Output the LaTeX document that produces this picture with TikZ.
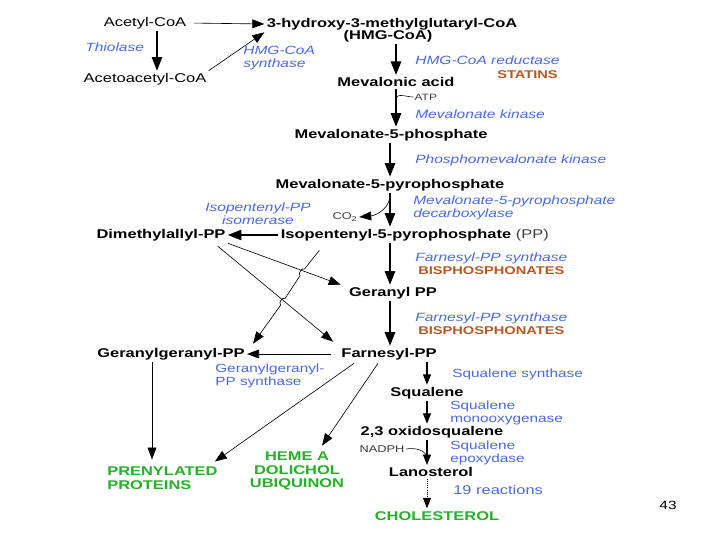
\documentclass[tikz,border=0pt]{standalone}
\usepackage{fontspec}
\setmainfont[FakeStretch=1.3]{Liberation Sans}
\usetikzlibrary{arrows.meta,calc}
\definecolor{enzblue}{RGB}{75,105,220}
\definecolor{drugbrown}{RGB}{180,88,36}
\definecolor{endgreen}{RGB}{36,176,40}
\definecolor{cofgray}{RGB}{60,60,60}

\begin{document}
\begin{tikzpicture}[x=0.025cm,y=-0.025cm,
  met/.style={font=\fontsize{9}{10}\selectfont\bfseries, inner sep=1.5pt},
  sub/.style={font=\fontsize{9}{10}\selectfont, inner sep=1.5pt},
  enz/.style={font=\fontsize{8.5}{9.3}\selectfont\itshape, text=enzblue, inner sep=0pt, align=left},
  enzup/.style={font=\fontsize{8.4}{9.3}\selectfont, text=enzblue, inner sep=0pt, align=left},
  drug/.style={font=\fontsize{8}{9}\selectfont\bfseries, text=drugbrown, inner sep=0pt},
  prod/.style={font=\fontsize{9}{9.6}\selectfont\bfseries, text=endgreen, inner sep=0pt},
  cof/.style={font=\fontsize{6.5}{8}\selectfont, text=cofgray, inner sep=1pt},
  stem/.style={line width=1.1pt, -{Triangle[length=3.4mm,width=2.6mm]}},
  branch/.style={line width=0.9pt, -{Triangle[length=2.6mm,width=2mm]}},
  link/.style={line width=0.45pt, -{Triangle[length=3mm,width=2.2mm]}}]

\fill[white] (0,0) rectangle (720,540);
\useasboundingbox (0,0) rectangle (720,540);

%spines
\coordinate (spineA) at (396,0);
\coordinate (spineB) at (390,0);
\coordinate (spineC) at (427,0);
\coordinate (ggdrop) at (152,0);
%fin

%top
\node[sub] (acetyl) at (145,23) {Acetyl-CoA};
\node[met] (hmgfull) at (392,24) {3-hydroxy-3-methylglutaryl-CoA};
\node[met] (hmg) at (388,36) {(HMG-CoA)};
\node[enz, anchor=west] (thiolase) at (85,47) {Thiolase};
\node[sub] (acetoacetyl) at (145,79) {Acetoacetyl-CoA};
\node[enz, anchor=west] (hmgsyn) at (243,58.5) {HMG-CoA\\synthase};
\draw[link, shorten <=4pt] (acetyl.east) -- (hmgfull.west);
\draw[stem, line width=0.9pt] ($(acetyl.south)+(12,0)$) -- ($(acetoacetyl.north)+(12,0)$);
\draw[link] (acetoacetyl.north east) -- (hmgfull.south west);
%fin

%mevalonate
\node[enz, anchor=west] (hmgred) at (415,60) {HMG-CoA reductase};
\node[drug, anchor=east] (statins) at (558,75) {STATINS};
\node[met] (meva) at (396,82) {Mevalonic acid};
\node[cof, anchor=west] (atp) at (413,97) {ATP};
\node[enz, anchor=west] (mevkin) at (415,114) {Mevalonate kinase};
\node[met] (m5p) at (391,135) {Mevalonate-5-phosphate};
\node[enz, anchor=west] (pmk) at (415,160) {Phosphomevalonate kinase};
\node[met] (m5pp) at (390,185) {Mevalonate-5-pyrophosphate};
\node[enz, anchor=west] (decarb) at (413,207.5) {Mevalonate-5-pyrophosphate\\decarboxylase};
\node[cof, font=\fontsize{7}{8}\selectfont] (co2) at (345,217) {CO\textsubscript{2}};
\draw[stem] (hmg.south -| spineA) -- (meva.north -| spineA);
\draw[stem] (meva.south -| spineA) -- (m5p.north -| spineA);
\draw[stem] (m5p.south -| spineB) -- (m5pp.north -| spineB);
\draw[thin] ($(meva.south -| spineA)+(0,10)$) to[out=80,in=180] (atp.west);
%fin

%isoprenes
\node[met] (ipp) at (396,235) {Isopentenyl-5-pyrophosphate};
\node[sub, text=cofgray, anchor=west] (ppnote) at (ipp.east) {(PP)};
\node[met] (dmapp) at (161,235) {Dimethylallyl-PP};
\node[enz, align=center] (isom) at (258,213.5) {Isopentenyl-PP\\isomerase};
\draw[stem] (m5pp.south -| spineB) -- (ipp.north -| spineB);
\draw[link] ($(m5pp.south -| spineB)+(0,4)$) to[out=-100,in=5] (co2.east);
\draw[stem, line width=0.9pt] (ipp.west) -- (dmapp.east);
%fin

%geranyl, farnesyl
\node[enz, anchor=west] (fpps1) at (415,258) {Farnesyl-PP synthase};
\node[drug, anchor=west] (bis1) at (418,271) {BISPHOSPHONATES};
\node[met] (gpp) at (393,293) {Geranyl PP};
\node[enz, anchor=west] (fpps2) at (415,318) {Farnesyl-PP synthase};
\node[drug, anchor=west] (bis2) at (418,331) {BISPHOSPHONATES};
\node[met] (fpp) at (389,354) {Farnesyl-PP};
\node[met] (ggpp) at (171,354) {Geranylgeranyl-PP};
\node[enzup, anchor=west] (ggppsyn) at (215,376) {Geranylgeranyl-\\PP synthase};
\draw[stem] (ipp.south -| spineB) -- (gpp.north -| spineB);
\draw[stem] (gpp.south -| spineB) -- (fpp.north -| spineB);
\draw[link, shorten <=6pt] (fpp.west) -- (ggpp.east);
%fin

%crossing lines
\coordinate (hopA1) at (304.5,269.0);
\coordinate (hopA2) at (300.1,275.6);
\coordinate (hopB1) at (285.1,298.4);
\coordinate (hopB2) at (280.7,305.0);
\draw[link] (dmapp.south east) -- ($(gpp.north west)+(-6,0)$);
\draw[link] ($(dmapp.south east)+(-10,3)$) -- ($(fpp.north west)+(-6,-4)$);
\draw[link] ($(ipp.south west)+(41,7)$) -- (hopA1) to[bend right=90] (hopA2)
  -- (hopB1) to[bend right=90] (hopB2) -- ($(ggpp.north east)+(6,-2)$);
%fin

%end products
\node[prod, anchor=west, align=left] (prenyl) at (107,478) {PRENYLATED\\PROTEINS};
\node[prod, align=center] (heme) at (297,471) {HEME A\\DOLICHOL\\UBIQUINON};
\draw[link, line width=0.6pt] (ggpp.south -| ggdrop) -- ($(prenyl.north -| ggdrop)+(0,-7)$);
\draw[link] ($(fpp.south west)+(15,1)$) -- ($(prenyl.north east)+(-3,-5)$);
\draw[link] ($(fpp.south west)+(39,1)$) -- ($(heme.north)+(25,-6)$);
%fin

%sterols
\node[enzup, anchor=west] (sqs) at (452,374) {Squalene synthase};
\node[met] (squalene) at (427,393) {Squalene};
\node[enzup, anchor=west] (sqmo) at (450,412.5) {Squalene\\monooxygenase};
\node[met] (oxido) at (432,432) {2,3 oxidosqualene};
\node[cof, font=\fontsize{7}{8}\selectfont] (nadph) at (382,449) {NADPH};
\node[enzup, anchor=west] (sqep) at (450,453) {Squalene\\epoxydase};
\node[met] (lano) at (431,472) {Lanosterol};
\node[enzup, font=\fontsize{9}{10}\selectfont, anchor=west] (react) at (453,490) {19 reactions};
\node[prod] (chol) at (437,516) {CHOLESTEROL};
\draw[branch] (fpp.south -| spineC) -- (squalene.north -| spineC);
\draw[branch] (squalene.south -| spineC) -- (oxido.north -| spineC);
\draw[branch] (oxido.south -| spineC) -- (lano.north -| spineC);
\draw[thin] (nadph.east) to[out=10,in=90] ($(lano.north -| spineC)+(0,-6)$);
\draw[branch, line width=0.5pt, densely dotted] (lano.south -| spineC) -- ($(chol.north -| spineC)+(0,-3)$);
%fin

\node[font=\fontsize{8.5}{10}\selectfont, inner sep=0pt] (page) at (668,505) {43};
\end{tikzpicture}
\end{document}
